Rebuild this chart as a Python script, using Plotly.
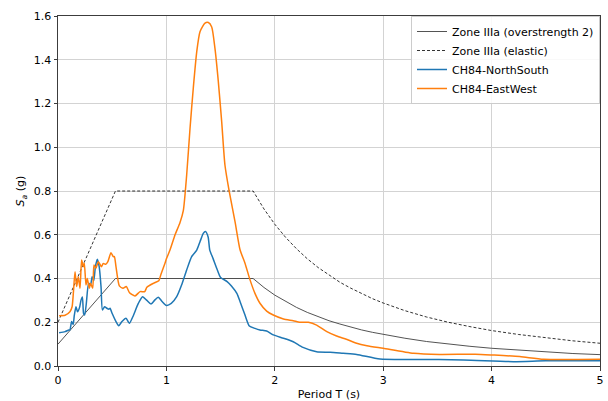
import plotly.graph_objects as go

# Design spectra
design_T = [0.0, 0.53, 1.8, 1.9, 2.0, 2.1, 2.2, 2.3, 2.4, 2.5, 2.6, 2.7, 2.8, 2.9, 3.0,
            3.2, 3.4, 3.6, 3.8, 4.0, 4.25, 4.5, 4.75, 5.0]
overstrength = [0.10, 0.40, 0.400, 0.359, 0.324, 0.294, 0.268, 0.245, 0.225, 0.207, 0.192,
                0.178, 0.165, 0.154, 0.144, 0.127, 0.112, 0.100, 0.090, 0.081, 0.072,
                0.064, 0.057, 0.052]
elastic = [0.20, 0.80, 0.800, 0.718, 0.648, 0.588, 0.536, 0.490, 0.450, 0.415, 0.383,
           0.356, 0.331, 0.308, 0.288, 0.253, 0.224, 0.200, 0.180, 0.162, 0.144,
           0.128, 0.115, 0.104]

# CH84 East-West
ew_T = [0.01, 0.065, 0.11, 0.13, 0.157, 0.172, 0.187, 0.203, 0.218, 0.234, 0.243, 0.258,
        0.27, 0.289, 0.30, 0.32, 0.332, 0.35, 0.372, 0.40, 0.418, 0.44, 0.46, 0.489,
        0.51, 0.52, 0.535, 0.566, 0.60, 0.63, 0.66, 0.71, 0.757, 0.80, 0.82, 0.88,
        0.93, 0.95, 0.987, 1.0, 1.033, 1.08, 1.125, 1.156, 1.187, 1.218, 1.248, 1.28,
        1.31, 1.356, 1.387, 1.418, 1.448, 1.479, 1.51, 1.54, 1.58, 1.633, 1.68, 1.725,
        1.77, 1.817, 1.863, 1.925, 1.986, 2.08, 2.17, 2.23, 2.31, 2.386, 2.48, 2.57,
        2.66, 2.755, 2.85, 3.0, 3.28, 3.52, 3.85, 4.016, 4.26, 4.48, 5.0]
ew_Sa = [0.23, 0.232, 0.248, 0.271, 0.431, 0.363, 0.408, 0.355, 0.485, 0.454, 0.47, 0.37,
         0.40, 0.355, 0.378, 0.355, 0.462, 0.447, 0.477, 0.454, 0.469, 0.465, 0.477, 0.518,
         0.50, 0.50, 0.454, 0.366, 0.355, 0.363, 0.335, 0.32, 0.34, 0.34, 0.36, 0.378,
         0.39, 0.42, 0.47, 0.49, 0.53, 0.60, 0.655, 0.71, 0.873, 1.087, 1.27, 1.437,
         1.528, 1.567, 1.57, 1.55, 1.452, 1.30, 1.117, 0.919, 0.797, 0.66, 0.53, 0.47,
         0.396, 0.332, 0.287, 0.251, 0.233, 0.215, 0.207, 0.20, 0.20, 0.187, 0.157, 0.137,
         0.122, 0.104, 0.093, 0.081, 0.058, 0.053, 0.054, 0.05, 0.043, 0.031, 0.031]

# CH84 North-South
ns_T = [0.01, 0.065, 0.1, 0.11, 0.126, 0.14, 0.15, 0.166, 0.18, 0.2, 0.212, 0.225, 0.236,
        0.246, 0.26, 0.283, 0.3, 0.315, 0.33, 0.345, 0.363, 0.38, 0.397, 0.41, 0.43,
        0.45, 0.47, 0.48, 0.50, 0.535, 0.56, 0.59, 0.627, 0.658, 0.69, 0.741, 0.78,
        0.82, 0.858, 0.89, 0.925, 0.96, 1.0, 1.045, 1.095, 1.14, 1.187, 1.233, 1.28,
        1.31, 1.34, 1.36, 1.385, 1.40, 1.43, 1.47, 1.50, 1.56, 1.60, 1.65, 1.68, 1.725,
        1.765, 1.817, 1.863, 1.925, 1.986, 2.08, 2.17, 2.26, 2.386, 2.51, 2.63, 2.755,
        2.97, 3.28, 3.74, 4.2, 4.5, 5.0]
ns_Sa = [0.152, 0.157, 0.165, 0.165, 0.203, 0.19, 0.23, 0.271, 0.248, 0.27, 0.30, 0.316,
         0.24, 0.233, 0.28, 0.378, 0.37, 0.408, 0.39, 0.454, 0.488, 0.454, 0.363, 0.256,
         0.271, 0.264, 0.26, 0.264, 0.24, 0.203, 0.184, 0.203, 0.218, 0.195, 0.225, 0.286,
         0.317, 0.30, 0.283, 0.30, 0.314, 0.295, 0.277, 0.286, 0.317, 0.37, 0.439, 0.50,
         0.53, 0.568, 0.606, 0.615, 0.59, 0.53, 0.492, 0.439, 0.405, 0.386, 0.366, 0.332,
         0.294, 0.233, 0.183, 0.172, 0.165, 0.16, 0.142, 0.127, 0.111, 0.085, 0.065, 0.063,
         0.058, 0.053, 0.032, 0.03, 0.028, 0.02, 0.024, 0.024]

x_ticks = [0, 1, 2, 3, 4, 5]
x_tick_labels = ["0", "1", "2", "3", "4", "5"]
y_ticks = [0.0, 0.2, 0.4, 0.6, 0.8, 1.0, 1.2, 1.4, 1.6]
y_tick_labels = ["0.0", "0.2", "0.4", "0.6", "0.8", "1.0", "1.2", "1.4", "1.6"]

fig = go.Figure()
fig.add_trace(go.Scatter(x=design_T, y=overstrength, mode="lines",
                         name="Zone IIIa (overstrength 2)",
                         line=dict(color="#404040", width=0.9)))
fig.add_trace(go.Scatter(x=design_T, y=elastic, mode="lines",
                         name="Zone IIIa (elastic)",
                         line=dict(color="black", width=0.8, dash="3px,2px")))
fig.add_trace(go.Scatter(x=ns_T, y=ns_Sa, mode="lines", name="CH84-NorthSouth",
                         line=dict(color="#1f77b4", width=1.5, shape="spline", smoothing=0.6)))
fig.add_trace(go.Scatter(x=ew_T, y=ew_Sa, mode="lines", name="CH84-EastWest",
                         line=dict(color="#ff7f0e", width=1.5, shape="spline", smoothing=0.6)))

axis_common = dict(showline=True, linecolor="#3c3c3c", linewidth=1, mirror=True,
                   ticks="outside", ticklen=3.5, tickwidth=0.8, tickcolor="#3c3c3c",
                   showgrid=True, gridcolor="#d3d3d3", gridwidth=1, zeroline=False,
                   automargin=False,
                   tickfont=dict(family="DejaVu Sans", size=11, color="black"))

fig.update_layout(
    width=608, height=401,
    margin=dict(l=58, r=8, t=16, b=35),
    paper_bgcolor="white", plot_bgcolor="white",
    font=dict(family="DejaVu Sans", size=11, color="black"),
    xaxis=dict(range=[0, 5], tickvals=x_ticks, ticktext=x_tick_labels,
               title=dict(text="Period T (s)", font=dict(size=11), standoff=4),
               **axis_common),
    yaxis=dict(range=[0, 1.6], tickvals=y_ticks, ticktext=y_tick_labels,
               title=dict(text="<i>S</i><sub><i>a</i></sub> (g)", font=dict(size=11), standoff=6),
               **axis_common),
    legend=dict(x=1, y=1, xanchor="right", yanchor="top",
                bgcolor="rgba(255,255,255,0.85)", bordercolor="#cccccc", borderwidth=1,
                font=dict(family="DejaVu Sans", size=11), tracegroupgap=0,
                itemwidth=30),
    showlegend=True,
)

fig.write_html("out.html", config={"displayModeBar": False},
               post_script="document.body.style.margin='0';document.body.style.overflow='hidden';")
